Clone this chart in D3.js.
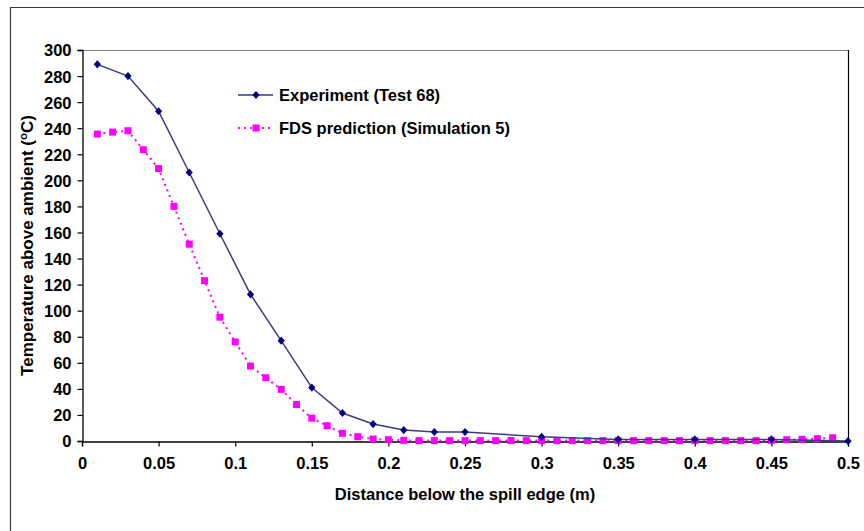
<!DOCTYPE html>
<html>
<head>
<meta charset="utf-8">
<script src="https://cdn.jsdelivr.net/npm/d3@7"></script>
<style>
  html, body { margin: 0; padding: 0; background: #fff; }
  svg { display: block; }
  text { font-family: "Liberation Sans", Arial, sans-serif; font-weight: bold; fill: #000; }
</style>
</head>
<body>
<svg id="chart" width="864" height="531"></svg>
<script>
// Experiment (Test 68): distance below spill edge (m) and temperature rise (°C)
const expDistance = [0.01, 0.03, 0.05, 0.07, 0.09, 0.11, 0.13, 0.15, 0.17, 0.19, 0.21, 0.23, 0.25, 0.30, 0.35, 0.40, 0.45, 0.50];
const expTemp     = [289, 280, 253, 206, 159, 112.5, 77, 41, 21.5, 13, 8.4, 6.9, 6.9, 3.2, 1.2, 1.2, 1.2, 0];

// FDS prediction (Simulation 5)
const fdsDistance = [0.01, 0.02, 0.03, 0.04, 0.05, 0.06, 0.07, 0.08, 0.09, 0.10,
                     0.11, 0.12, 0.13, 0.14, 0.15, 0.16, 0.17, 0.18, 0.19, 0.20,
                     0.21, 0.22, 0.23, 0.24, 0.25, 0.26, 0.27, 0.28, 0.29, 0.30,
                     0.31, 0.32, 0.33, 0.34, 0.35, 0.36, 0.37, 0.38, 0.39, 0.40,
                     0.41, 0.42, 0.43, 0.44, 0.45, 0.46, 0.47, 0.48, 0.49];
const fdsTemp     = [235.5, 237, 238, 223.5, 209, 180, 151, 123, 95, 76,
                     57.5, 48.5, 39.6, 28, 17.5, 11.7, 5.9, 3.3, 1.5, 1,
                     0.5, 0.3, 0.3, 0.3, 0.3, 0.3, 0.3, 0.3, 0.3, 0.3,
                     0.3, 0.3, 0.3, 0.3, 0.3, 0.3, 0.3, 0.3, 0.3, 0.3,
                     0.3, 0.3, 0.3, 0.3, 0.5, 1, 1.3, 1.8, 2.5];

const xTicks = [0, 0.05, 0.1, 0.15, 0.2, 0.25, 0.3, 0.35, 0.4, 0.45, 0.5];
const yTicks = [0, 20, 40, 60, 80, 100, 120, 140, 160, 180, 200, 220, 240, 260, 280, 300];

const seriesNames = ["Experiment (Test 68)", "FDS prediction (Simulation 5)"];
const navy = "#000080";
const magenta = "#ff00ff";
const fontSize = 16.5;

const svg = d3.select("#chart");

// outer chart frame
svg.append("path")
  .attr("d", "M10.5,540 V7.5 H870")
  .attr("fill", "none")
  .attr("stroke", "#3a3a3a")
  .attr("stroke-width", 1.2);

const plot = { left: 82, right: 848, top: 50, bottom: 441 };

const x = d3.scaleLinear().domain([0, 0.5]).range([plot.left, plot.right]);
const y = d3.scaleLinear().domain([0, 300]).range([plot.bottom, plot.top]);

// plot area border (top and right)
svg.append("line")
  .attr("x1", plot.left).attr("x2", plot.right)
  .attr("y1", plot.top + 0.5).attr("y2", plot.top + 0.5)
  .attr("stroke", "#808080").attr("stroke-width", 1.2);
svg.append("line")
  .attr("x1", plot.right + 0.5).attr("x2", plot.right + 0.5)
  .attr("y1", plot.top).attr("y2", plot.bottom)
  .attr("stroke", "#000").attr("stroke-width", 1.2);

// axes
const xAxis = d3.axisBottom(x).tickValues(xTicks).tickSize(5).tickPadding(11)
  .tickFormat(d => d3.format("")(+d.toFixed(2)));
const yAxis = d3.axisLeft(y).tickValues(yTicks).tickSize(5).tickPadding(6);

const gx = svg.append("g").attr("transform", `translate(0,${plot.bottom + 0.5})`).call(xAxis);
const gy = svg.append("g").attr("transform", `translate(${plot.left + 0.5},0)`).call(yAxis);

[gx, gy].forEach(g => {
  g.select(".domain").attr("stroke", "#000").attr("stroke-width", 1.3);
  g.selectAll(".tick line").attr("stroke", "#000").attr("stroke-width", 1.2);
  g.selectAll(".tick text")
    .attr("font-family", "'Liberation Sans', Arial, sans-serif")
    .attr("font-weight", "bold")
    .attr("font-size", fontSize)
    .attr("fill", "#000");
});
gy.selectAll(".tick text").attr("dy", "0.36em");

// axis titles
svg.append("text")
  .attr("x", (plot.left + plot.right) / 2)
  .attr("y", 500)
  .attr("text-anchor", "middle")
  .attr("font-size", fontSize)
  .text("Distance below the spill edge (m)");

const yTitle = svg.append("text")
  .attr("transform", `translate(33,${(plot.top + plot.bottom) / 2}) rotate(-90)`)
  .attr("text-anchor", "middle")
  .attr("font-size", 17);
yTitle.append("tspan").text("Temperature above ambient (");
yTitle.append("tspan").attr("font-size", 11.5).attr("dy", -6).text("o");
yTitle.append("tspan").attr("dy", 6).text("C)");

// markers
const diamond = (cx, cy, r) => `M${cx},${cy - r - 0.5} L${cx + r},${cy} L${cx},${cy + r + 0.5} L${cx - r},${cy} Z`;
const square = (cx, cy, s) => `M${cx - s / 2},${cy - s / 2} h${s} v${s} h${-s} Z`;

const expData = expDistance.map((d, i) => [d, expTemp[i]]);
const fdsData = fdsDistance.map((d, i) => [d, fdsTemp[i]]);

const line = d3.line().x(d => x(d[0])).y(d => y(d[1]));

// FDS prediction: dotted magenta line with square markers
svg.append("path")
  .attr("d", line(fdsData))
  .attr("fill", "none")
  .attr("stroke", magenta)
  .attr("stroke-width", 2)
  .attr("stroke-dasharray", "2,4");
svg.append("g").selectAll("path").data(fdsData).join("path")
  .attr("d", d => square(x(d[0]), y(d[1]), 7))
  .attr("fill", magenta);

// Experiment: solid navy line with diamond markers
svg.append("path")
  .attr("d", line(expData))
  .attr("fill", "none")
  .attr("stroke", "#3b3b86")
  .attr("stroke-width", 1.5);
svg.append("g").selectAll("path").data(expData).join("path")
  .attr("d", d => diamond(x(d[0]), y(d[1]), 3.6))
  .attr("fill", navy);

// legend
const legend = svg.append("g");
const lx0 = 238, lx1 = 273, lmx = 256;
const ly = [95, 128];

legend.append("line")
  .attr("x1", lx0).attr("x2", lx1).attr("y1", ly[0]).attr("y2", ly[0])
  .attr("stroke", "#3b3b86").attr("stroke-width", 1.5);
legend.append("path").attr("d", diamond(lmx, ly[0], 3.6)).attr("fill", navy);

legend.append("line")
  .attr("x1", lx0).attr("x2", lx1).attr("y1", ly[1]).attr("y2", ly[1])
  .attr("stroke", magenta).attr("stroke-width", 2).attr("stroke-dasharray", "2,4");
legend.append("path").attr("d", square(lmx, ly[1], 7)).attr("fill", magenta);

legend.selectAll("text").data(seriesNames).join("text")
  .attr("x", 279)
  .attr("y", (d, i) => ly[i])
  .attr("dy", "0.36em")
  .attr("font-size", fontSize)
  .text(d => d);
</script>
</body>
</html>
